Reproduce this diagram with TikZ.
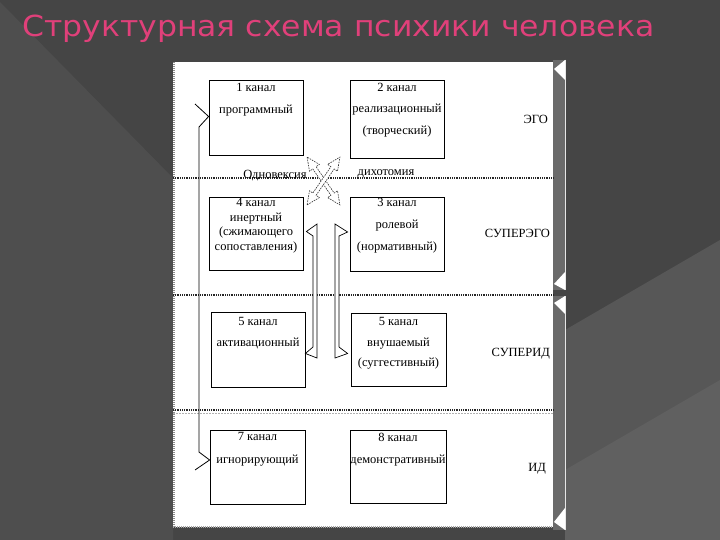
\documentclass[tikz,border=0pt]{standalone}
\usepackage{fontspec}
\setmainfont{Liberation Serif}
\newfontfamily\titlefont{DejaVu Sans}
\usetikzlibrary{calc}
\definecolor{bgdark}{HTML}{454545}
\definecolor{bglight}{HTML}{4E4E4E}
\definecolor{bgright}{HTML}{575757}
\definecolor{bgright2}{HTML}{606060}
\definecolor{titlepink}{HTML}{E0407A}
\definecolor{barfill}{HTML}{6A6A6A}
\tikzset{
  chbox/.style={draw=black, line width=0.8pt, inner sep=0pt, fill=white},
  txt/.style={font=\fontsize{12.5}{14}\selectfont, inner sep=0pt, anchor=base},
  lvl/.style={font=\fontsize{12.5}{14}\selectfont, inner sep=0pt, anchor=base east},
  sep/.style={black!85, line width=1.4pt, dash pattern=on 1pt off 0.8pt},
  hollow/.style={draw=black!80, fill=white, line width=0.6pt, dash pattern=on 1.6pt off 1pt},
  solidhollow/.style={draw=black, fill=white, line width=0.7pt, line join=miter},
  conn/.style={draw=black, line width=0.8pt},
  tri/.style={fill=white, draw=none},
}
\begin{document}
\begin{tikzpicture}[x=1pt,y=-1pt]
\useasboundingbox (0,0) rectangle (720,540);
% background
\fill[bgdark] (0,0) rectangle (720,540);
\fill[bglight] (0,2) -- (173,178) -- (173,540) -- (0,540) -- cycle;
\fill[bgright] (565,330) -- (720,240) -- (720,540) -- (565,540) -- cycle;
\fill[bgright2] (565,470) -- (720,380) -- (720,540) -- (565,540) -- cycle;
% title
\node[anchor=base west, inner sep=0pt, font=\titlefont\fontsize{29}{30}\selectfont, text=titlepink] (title) at (22,37) {\scalebox{1.085}[1]{Структурная схема психики человека}};
% panel
\fill[white] (173,62) rectangle (553,527);
\draw[black!45, line width=2pt, dash pattern=on 1pt off 1pt] (174,62) -- (174,527);
\draw[black!35, line width=1.2pt, dash pattern=on 1pt off 1pt] (173,527) -- (553,527);
% right brackets
\fill[barfill] (553,60) rectangle (565,290);
\fill[barfill] (553,296) rectangle (565,530);
\draw[black!10, line width=0.8pt] (565,60) -- (565,290);
\draw[black!10, line width=0.8pt] (565,296) -- (565,530);
\fill[tri] (554,69) -- (565,60) -- (565,80) -- cycle;
\fill[tri] (554,284) -- (565,272) -- (565,290) -- cycle;
\fill[tri] (554,303) -- (565,296) -- (565,314) -- cycle;
\fill[tri] (554,522) -- (565,508) -- (565,530) -- cycle;
% separators
\draw[sep] (173,178) -- (553,178);
\draw[sep, line width=2.2pt] (173,295) -- (553,295);
\draw[sep] (173,410) -- (553,410);
\draw[black!30, line width=1pt, dash pattern=on 2pt off 1pt] (173,413) -- (553,413);
% boxes
\node[chbox, minimum width=94pt, minimum height=75pt] (b1) at (256,117.5) {};
\node[chbox, minimum width=94pt, minimum height=78pt] (b2) at (397,119) {};
\node[chbox, minimum width=94pt, minimum height=73pt] (b4) at (256,233.5) {};
\node[chbox, minimum width=94pt, minimum height=74pt] (b3) at (397,234) {};
\node[chbox, minimum width=94pt, minimum height=75pt] (b5) at (258,349.5) {};
\node[chbox, minimum width=95pt, minimum height=73pt] (b6) at (398.5,349.5) {};
\node[chbox, minimum width=95pt, minimum height=74pt] (b7) at (257.5,467) {};
\node[chbox, minimum width=96pt, minimum height=73pt] (b8) at (398,466.5) {};
% box texts
\node[txt] (t1a) at (256,92) {1 канал};
\node[txt] (t1b) at (256,114) {программный};
\node[txt] (t2a) at (397,92) {2 канал};
\node[txt] (t2b) at (397,113) {реализационный};
\node[txt] (t2c) at (397,135) {(творческий)};
\node[txt] (t4a) at (256,207) {4 канал};
\node[txt] (t4b) at (256,221.5) {инертный};
\node[txt] (t4c) at (256,236) {(сжимающего};
\node[txt] (t4d) at (256,251) {сопоставления)};
\node[txt] (t3a) at (397,207) {3 канал};
\node[txt] (t3b) at (397,229) {ролевой};
\node[txt] (t3c) at (397,251) {(нормативный)};
\node[txt] (t5a) at (258,325) {5 канал};
\node[txt] (t5b) at (258,346) {активационный};
\node[txt] (t6a) at (398.5,325) {5 канал};
\node[txt] (t6b) at (398.5,346) {внушаемый};
\node[txt] (t6c) at (398.5,366) {(суггестивный)};
\node[txt] (t7a) at (257.5,440) {7 канал};
\node[txt] (t7b) at (257.5,463) {игнорирующий};
\node[txt] (t8a) at (398,441) {8 канал};
\node[txt] (t8b) at (398,463) {демонстративный};
% level labels
\node[lvl] (ego) at (548,124) {ЭГО};
\node[lvl] (superego) at (550,237) {СУПЕРЭГО};
\node[lvl] (superid) at (550,356) {СУПЕРИД};
\node[lvl] (id) at (546,471) {ИД};
% dichotomy labels
\node[txt] (odn) at (275,178.5) {Одновексия};
\node[txt] (dih) at (386,176) {дихотомия};
% long left connector
\coordinate (c1) at (199,127);
\coordinate (c2) at (199,452);
\draw[conn] (195,104) -- ($(b1.west)+(0,-1)$) -- (c1) -- (c2) -- ($(b7.west)+(0,-7)$) -- (195,470);
% crossing hollow arrows
\begin{scope}[shift={(323.5,181)}, rotate=-55.5]
  \path[hollow] (-29,0) -- (-16,6) -- (-16,2) -- (16,2) -- (16,6) -- (29,0) -- (16,-6) -- (16,-2) -- (-16,-2) -- (-16,-6) -- cycle;
\end{scope}
\begin{scope}[shift={(323.5,181)}, rotate=55.5]
  \path[hollow] (-29,0) -- (-16,6) -- (-16,2) -- (16,2) -- (16,6) -- (29,0) -- (16,-6) -- (16,-2) -- (-16,-2) -- (-16,-6) -- cycle;
\end{scope}
% vertical hollow bent arrows between rows 2 and 3
\path[solidhollow] ($(b4.east)+(3,-2)$) -- (317,224) -- (317,358) -- ($(b5.east)+(0,4)$) -- (313,347) -- (313,236) -- cycle;
\path[solidhollow] ($(b3.west)+(-2,-2)$) -- (335,224) -- (335,358) -- ($(b6.west)+(-3,4)$) -- (339,347) -- (339,236) -- cycle;
\end{tikzpicture}
\end{document}
